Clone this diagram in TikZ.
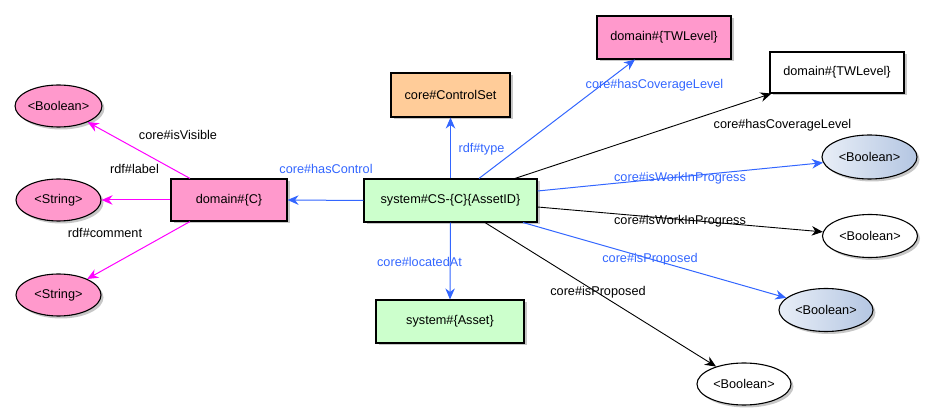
\documentclass[tikz,border=0pt]{standalone}
\usepackage{fontspec}
\setmainfont{Liberation Sans}
\usetikzlibrary{arrows.meta,shapes.geometric,shadows}
\definecolor{pinkf}{HTML}{FF99CC}
\definecolor{greenf}{HTML}{CCFFCC}
\definecolor{orangef}{HTML}{FFCC99}
\definecolor{edgeblue}{HTML}{3366FF}
\definecolor{magentae}{HTML}{FF00FF}
\definecolor{bluel}{HTML}{E8EEF7}
\definecolor{bluer}{HTML}{B4C6E2}
\begin{document}
\begin{tikzpicture}[x=1pt,y=-1pt,
  font=\fontsize{12.7}{14}\selectfont,
  shad/.style={drop shadow={shadow xshift=2.5pt,shadow yshift=-2.5pt,opacity=0.22,fill=black}},
  box/.style={draw=black,line width=1.1pt,rectangle,inner sep=0pt,shad},
  oval/.style={draw=black,line width=1.1pt,ellipse,inner sep=0pt,shad},
  pinkbox/.style={box,fill=pinkf},
  greenbox/.style={box,fill=greenf},
  orangebox/.style={box,fill=orangef},
  whitebox/.style={box,fill=white},
  pinkoval/.style={oval,fill=pinkf,minimum width=85pt,minimum height=42pt},
  whiteoval/.style={oval,fill=white,minimum width=95pt,minimum height=43pt},
  blueoval/.style={oval,left color=bluel,right color=bluer,minimum width=95pt,minimum height=44pt},
  tip/.style={-{Stealth[length=11pt,width=9.5pt,inset=3.5pt]}},
  magline/.style={tip,line width=1pt,draw=magentae},
  blueline/.style={tip,line width=1pt,draw=edgeblue},
  blackline/.style={tip,line width=0.9pt,draw=black},
  bluelbl/.style={text=edgeblue,inner sep=0pt},
  blacklbl/.style={text=black,inner sep=0pt}
]
\useasboundingbox (0,0) rectangle (930,419);

% nodes
\node[pinkoval] (bool1) at (58.5,106) {<Boolean>};
\node[pinkoval] (str1) at (58.5,200) {<String>};
\node[pinkoval] (str2) at (58.5,295) {<String>};
\node[pinkbox,minimum width=116pt,minimum height=42pt] (domC) at (229,200) {domain\#\{C\}};
\node[greenbox,minimum width=173pt,minimum height=43pt] (sys) at (450.5,200.5) {system\#CS-\{C\}\{AssetID\}};
\node[orangebox,minimum width=119pt,minimum height=44pt] (ctrl) at (450.5,95) {core\#ControlSet};
\node[greenbox,minimum width=148pt,minimum height=43pt] (asset) at (450,321.5) {system\#\{Asset\}};
\node[pinkbox,minimum width=134pt,minimum height=43pt] (twp) at (664,37.5) {domain\#\{TWLevel\}};
\node[whitebox,minimum width=134pt,minimum height=41pt] (tww) at (837,72.5) {domain\#\{TWLevel\}};
\node[blueoval] (bb1) at (869.5,157) {<Boolean>};
\node[whiteoval] (bw2) at (870,236) {<Boolean>};
\node[blueoval,minimum width=94pt,minimum height=43pt] (bb3) at (826,310) {<Boolean>};
\node[whiteoval,minimum width=94pt,minimum height=42pt] (bw4) at (744,384) {<Boolean>};

% connectors
\draw[magline] ([xshift=-39pt]domC.north) -- (bool1);
\draw[magline] (domC.west) -- (str1.east);
\draw[magline] ([xshift=-39pt]domC.south) -- (str2);
\draw[blueline] (sys.west) -- (domC.east);
\draw[blueline] (sys.north) -- (ctrl.south);
\draw[blueline] (sys.south) -- (asset.north);
\draw[blueline] ([xshift=28.5pt]sys.north) -- ([xshift=-29pt]twp.south);
\draw[blackline] ([xshift=64.5pt]sys.north) -- ([xshift=2pt]tww.south west);
\draw[blueline] ([yshift=9.5pt]sys.east) -- (bb1.187);
\draw[blackline] ([yshift=-6.5pt]sys.east) -- (bw2.175);
\draw[blueline] ([xshift=72.5pt]sys.south) -- (bb3.163);
\draw[blackline] ([xshift=34.5pt]sys.south) -- (bw4.148);

% labels
\node[blacklbl] (lvis) at (178,135) {core\#isVisible};
\node[blacklbl] (llab) at (134.5,169) {rdf\#label};
\node[blacklbl] (lcom) at (105,233) {rdf\#comment};
\node[bluelbl] (lctl) at (326,169) {core\#hasControl};
\node[bluelbl] (ltyp) at (481.5,149) {rdf\#type};
\node[bluelbl] (lloc) at (419.5,262) {core\#locatedAt};
\node[bluelbl] (lcov1) at (654.5,85) {core\#hasCoverageLevel};
\node[blacklbl] (lcov2) at (782.5,125) {core\#hasCoverageLevel};
\node[bluelbl] (lwip1) at (680,178) {core\#isWorkInProgress};
\node[blacklbl] (lwip2) at (680,221) {core\#isWorkInProgress};
\node[bluelbl] (lprop1) at (650,259) {core\#isProposed};
\node[blacklbl] (lprop2) at (598,292) {core\#isProposed};
\end{tikzpicture}
\end{document}
